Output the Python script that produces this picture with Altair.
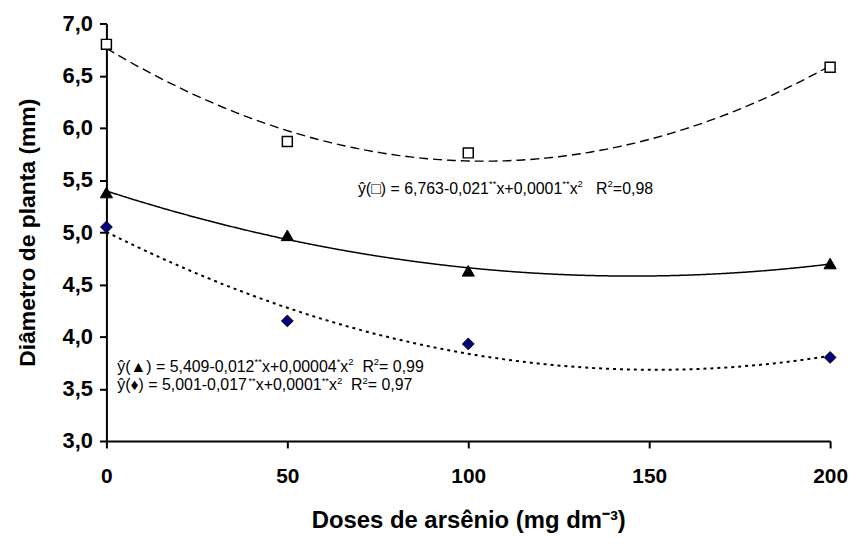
import altair as alt
import pandas as pd

# ---------------- data ----------------
doses = [0, 50, 100, 200]
quadrado = [6.80, 5.87, 5.76, 6.58]     # open squares
triangulo = [5.38, 4.97, 4.63, 4.70]    # black triangles
losango = [5.05, 4.15, 3.93, 3.80]      # navy diamonds

x_ticks = [0, 50, 100, 150, 200]
y_ticks = [3.0, 3.5, 4.0, 4.5, 5.0, 5.5, 6.0, 6.5, 7.0]

# equation annotations: (x anchor, y baseline, segments (text, is_superscript))
eq1_pos = (69.5, 5.37)
eq2_pos = (3.0, 3.66)
eq3_pos = (3.0, 3.485)
eq1 = [("ŷ(□) = 6,763-0,021", 0), ("**", 1), ("x+0,0001", 0), ("**", 1), ("x", 0), ("2", 1),
       ("   ", 0), ("R", 0), ("2", 1), ("=0,98", 0)]
eq2 = [("ŷ(▲) = 5,409-0,012", 0), ("**", 1), ("x+0,00004", 0), ("*", 1), ("x", 0), ("2", 1),
       ("  ", 0), ("R", 0), ("2", 1), ("= 0,99", 0)]
eq3 = [("ŷ(♦) = 5,001-0,017", 0), ("**", 1), ("x+0,0001", 0), ("**", 1), ("x", 0), ("2", 1),
       ("  ", 0), ("R", 0), ("2", 1), ("= 0,97", 0)]

FONT = "Liberation Sans, Arial, sans-serif"
MAIN = 16
SUP = 9.5

# Arial / Liberation Sans advance widths (per 1000 em)
W = {' ': 278, '(': 333, ')': 333, '=': 584, '-': 333, '+': 584, ',': 278, 'x': 500,
     'R': 722, 'ŷ': 500, '□': 604, '▲': 990, '♦': 604, '*': 389}


def tw(s, size):
    return sum(W.get(c, 556) for c in s) / 1000.0 * size


def frame(xs, ys):
    return pd.DataFrame({"dose": xs, "valor": ys})


x_enc = alt.X("dose:Q", scale=alt.Scale(domain=[0, 200], nice=False, zero=False),
              axis=alt.Axis(values=x_ticks, title="Doses de arsênio (mg dm⁻³)", grid=False,
                            labelFlush=False, labelOverlap=False, labelPadding=18,
                            labelFontSize=21, labelFontWeight="bold", labelFont=FONT,
                            labelColor="black", tickSize=7, tickWidth=2, tickColor="black",
                            domainColor="black", domainWidth=2,
                            titleFont=FONT, titleFontSize=24, titleFontWeight="bold",
                            titleColor="black", titleY=80, titleBaseline="middle"))
y_enc = alt.Y("valor:Q", scale=alt.Scale(domain=[3, 7], nice=False, zero=False),
              axis=alt.Axis(values=y_ticks, title="Diâmetro de planta (mm)", grid=False,
                            labelExpr="replace(format(datum.value, '.1f'), '.', ',')",
                            labelPadding=7, labelFontSize=22, labelFontWeight="bold",
                            labelFont=FONT, labelColor="black", tickSize=7, tickWidth=2,
                            tickColor="black", domainColor="black", domainWidth=2,
                            titleFont=FONT, titleFontSize=23, titleFontWeight="bold",
                            titleColor="black", titleX=-79, titleY=210, titleAngle=270,
                            titleAlign="center", titleBaseline="middle"))

layers = []

# fitted quadratic curves (regression computed by Vega-Lite)
for ys, dash, sw in [(quadrado, [9, 5], 1.4), (triangulo, [1, 0], 1.5), (losango, [3, 4], 2)]:
    layers.append(
        alt.Chart(frame(doses, ys))
        .transform_regression("dose", "valor", method="poly", order=2, extent=[0, 200])
        .mark_line(color="black", strokeWidth=sw, strokeDash=dash)
        .encode(x=x_enc, y=y_enc)
    )

# markers
layers.append(alt.Chart(frame(doses, quadrado)).mark_point(
    shape="square", filled=True, fill="white", stroke="black", strokeWidth=1.5,
    size=100, opacity=1).encode(x=x_enc, y=y_enc))
layers.append(alt.Chart(frame(doses, triangulo)).mark_point(
    shape="triangle-up", filled=True, fill="black", stroke="black", strokeWidth=1,
    size=150, opacity=1).encode(x=x_enc, y=y_enc))
layers.append(alt.Chart(frame(doses, losango)).mark_point(
    shape="diamond", filled=True, fill="#000080", stroke="black", strokeWidth=1,
    size=140, opacity=1).encode(x=x_enc, y=y_enc))

# equation texts
for (x0, y0), segs in [(eq1_pos, eq1), (eq2_pos, eq2), (eq3_pos, eq3)]:
    off = 0.0
    for s, sup in segs:
        size = SUP if sup else MAIN
        if s.strip():
            layers.append(
                alt.Chart(pd.DataFrame({"dose": [x0], "valor": [y0], "t": [s]}))
                .mark_text(align="left", baseline="alphabetic", dx=off,
                           dy=-0.42 * MAIN if sup else 0, fontSize=size, font=FONT,
                           color="black")
                .encode(x=x_enc, y=y_enc, text="t:N")
            )
        off += tw(s, size)

chart = alt.layer(*layers).properties(
    width=728, height=420,
    autosize=alt.AutoSizeParams(type="none"),
    padding={"left": 99, "top": 14, "right": 20, "bottom": 92},
    background="white",
).configure_view(strokeWidth=0)

chart.save("out.html", embed_options={"renderer": "svg", "actions": False})
